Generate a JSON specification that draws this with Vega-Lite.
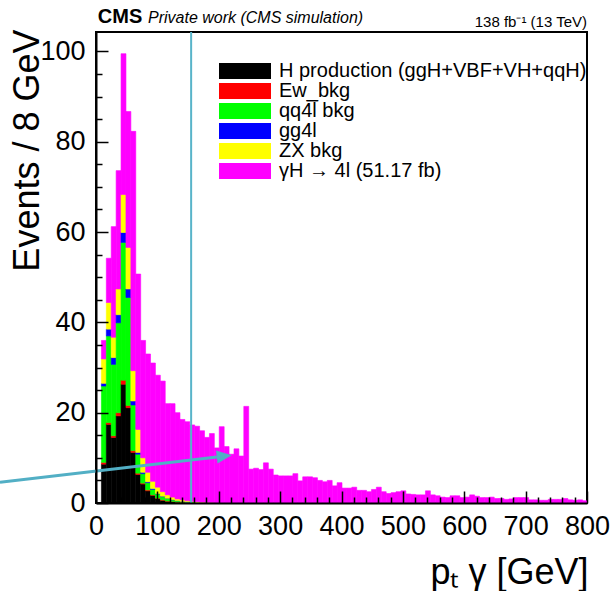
{
  "$schema": "https://vega.github.io/schema/vega-lite/v6.json",
  "width": 491,
  "height": 471,
  "autosize": {"type": "none"},
  "padding": {"left": 96, "top": 32, "right": 29, "bottom": 88},
  "background": "white",
  "config": {"view": {"stroke": "black", "strokeWidth": 2}, "font": "Liberation Sans"},
  "resolve": {"scale": {"x": "shared", "y": "shared"}, "axis": {"x": "independent", "y": "independent"}},
  "datasets": {
    "procs": [
      {"proc": "H", "name": "H production (ggH+VBF+VH+qqH)", "rank": 0},
      {"proc": "Ew", "name": "Ew_bkg", "rank": 1},
      {"proc": "qq", "name": "qq4̅l bkg", "rank": 2},
      {"proc": "gg", "name": "gg4l", "rank": 3},
      {"proc": "ZX", "name": "ZX bkg", "rank": 4},
      {"proc": "gH", "name": "γH → 4l (51.17 fb)", "rank": 5}
    ],
    "hist": [
      {"lo":8,"hi":16,"proc":"H","n":8.6},{"lo":8,"hi":16,"proc":"Ew","n":0.4},{"lo":8,"hi":16,"proc":"qq","n":16.9},{"lo":8,"hi":16,"proc":"gg","n":0.6},{"lo":8,"hi":16,"proc":"ZX","n":5.4},{"lo":8,"hi":16,"proc":"gH","n":4.1},
      {"lo":16,"hi":24,"proc":"H","n":17.4},{"lo":16,"hi":24,"proc":"Ew","n":0.4},{"lo":16,"hi":24,"proc":"qq","n":19.2},{"lo":16,"hi":24,"proc":"gg","n":1.5},{"lo":16,"hi":24,"proc":"ZX","n":5.9},{"lo":16,"hi":24,"proc":"gH","n":9.8},
      {"lo":24,"hi":32,"proc":"H","n":14.5},{"lo":24,"hi":32,"proc":"Ew","n":0.4},{"lo":24,"hi":32,"proc":"qq","n":15.8},{"lo":24,"hi":32,"proc":"gg","n":1.5},{"lo":24,"hi":32,"proc":"ZX","n":4.5},{"lo":24,"hi":32,"proc":"gH","n":24.5},
      {"lo":32,"hi":40,"proc":"H","n":19.3},{"lo":32,"hi":40,"proc":"Ew","n":0.7},{"lo":32,"hi":40,"proc":"qq","n":19.9},{"lo":32,"hi":40,"proc":"gg","n":1.8},{"lo":32,"hi":40,"proc":"ZX","n":5.7},{"lo":32,"hi":40,"proc":"gH","n":26.2},
      {"lo":40,"hi":48,"proc":"H","n":26.3},{"lo":40,"hi":48,"proc":"Ew","n":0.9},{"lo":40,"hi":48,"proc":"qq","n":30.5},{"lo":40,"hi":48,"proc":"gg","n":2.2},{"lo":40,"hi":48,"proc":"ZX","n":8.4},{"lo":40,"hi":48,"proc":"gH","n":31.2},
      {"lo":48,"hi":56,"proc":"H","n":21.1},{"lo":48,"hi":56,"proc":"Ew","n":0.5},{"lo":48,"hi":56,"proc":"qq","n":23.9},{"lo":48,"hi":56,"proc":"gg","n":1.9},{"lo":48,"hi":56,"proc":"ZX","n":9.2},{"lo":48,"hi":56,"proc":"gH","n":30.1},
      {"lo":56,"hi":64,"proc":"H","n":11.2},{"lo":56,"hi":64,"proc":"Ew","n":0.4},{"lo":56,"hi":64,"proc":"qq","n":10.1},{"lo":56,"hi":64,"proc":"gg","n":0.9},{"lo":56,"hi":64,"proc":"ZX","n":6.7},{"lo":56,"hi":64,"proc":"gH","n":53.0},
      {"lo":64,"hi":72,"proc":"H","n":6.3},{"lo":64,"hi":72,"proc":"Ew","n":0.3},{"lo":64,"hi":72,"proc":"qq","n":4.2},{"lo":64,"hi":72,"proc":"gg","n":0.4},{"lo":64,"hi":72,"proc":"ZX","n":5.1},{"lo":64,"hi":72,"proc":"gH","n":34.4},
      {"lo":72,"hi":80,"proc":"H","n":4.2},{"lo":72,"hi":80,"proc":"Ew","n":0.2},{"lo":72,"hi":80,"proc":"qq","n":2.1},{"lo":72,"hi":80,"proc":"gg","n":0.3},{"lo":72,"hi":80,"proc":"ZX","n":3.2},{"lo":72,"hi":80,"proc":"gH","n":26.0},
      {"lo":80,"hi":88,"proc":"H","n":2.7},{"lo":80,"hi":88,"proc":"Ew","n":0.2},{"lo":80,"hi":88,"proc":"qq","n":1.6},{"lo":80,"hi":88,"proc":"gg","n":0.2},{"lo":80,"hi":88,"proc":"ZX","n":2.1},{"lo":80,"hi":88,"proc":"gH","n":26.2},
      {"lo":88,"hi":96,"proc":"H","n":1.7},{"lo":88,"hi":96,"proc":"Ew","n":0.1},{"lo":88,"hi":96,"proc":"qq","n":1.2},{"lo":88,"hi":96,"proc":"gg","n":0.2},{"lo":88,"hi":96,"proc":"ZX","n":1.6},{"lo":88,"hi":96,"proc":"gH","n":26.2},
      {"lo":96,"hi":104,"proc":"H","n":1.0},{"lo":96,"hi":104,"proc":"Ew","n":0.1},{"lo":96,"hi":104,"proc":"qq","n":0.9},{"lo":96,"hi":104,"proc":"gg","n":0.1},{"lo":96,"hi":104,"proc":"ZX","n":1.4},{"lo":96,"hi":104,"proc":"gH","n":24.8},
      {"lo":104,"hi":112,"proc":"H","n":0.6},{"lo":104,"hi":112,"proc":"Ew","n":0.1},{"lo":104,"hi":112,"proc":"qq","n":0.7},{"lo":104,"hi":112,"proc":"gg","n":0.1},{"lo":104,"hi":112,"proc":"ZX","n":1.0},{"lo":104,"hi":112,"proc":"gH","n":24.5},
      {"lo":112,"hi":120,"proc":"H","n":0.4},{"lo":112,"hi":120,"proc":"Ew","n":0.05},{"lo":112,"hi":120,"proc":"qq","n":0.55},{"lo":112,"hi":120,"proc":"gg","n":0.05},{"lo":112,"hi":120,"proc":"ZX","n":0.75},{"lo":112,"hi":120,"proc":"gH","n":20.2},
      {"lo":120,"hi":128,"proc":"H","n":0.3},{"lo":120,"hi":128,"proc":"Ew","n":0.05},{"lo":120,"hi":128,"proc":"qq","n":0.35},{"lo":120,"hi":128,"proc":"gg","n":0.05},{"lo":120,"hi":128,"proc":"ZX","n":0.55},{"lo":120,"hi":128,"proc":"gH","n":20.7},
      {"lo":128,"hi":136,"proc":"H","n":0.2},{"lo":128,"hi":136,"proc":"Ew","n":0.02},{"lo":128,"hi":136,"proc":"qq","n":0.28},{"lo":128,"hi":136,"proc":"gg","n":0.02},{"lo":128,"hi":136,"proc":"ZX","n":0.38},{"lo":128,"hi":136,"proc":"gH","n":19.1},
      {"lo":136,"hi":144,"proc":"H","n":0.15},{"lo":136,"hi":144,"proc":"Ew","n":0.02},{"lo":136,"hi":144,"proc":"qq","n":0.18},{"lo":136,"hi":144,"proc":"gg","n":0.02},{"lo":136,"hi":144,"proc":"ZX","n":0.33},{"lo":136,"hi":144,"proc":"gH","n":17.8},
      {"lo":144,"hi":152,"proc":"H","n":0.1},{"lo":144,"hi":152,"proc":"Ew","n":0.01},{"lo":144,"hi":152,"proc":"qq","n":0.14},{"lo":144,"hi":152,"proc":"gg","n":0.01},{"lo":144,"hi":152,"proc":"ZX","n":0.24},{"lo":144,"hi":152,"proc":"gH","n":17.5},
      {"lo":152,"hi":160,"proc":"H","n":0.08},{"lo":152,"hi":160,"proc":"qq","n":0.12},{"lo":152,"hi":160,"proc":"ZX","n":0.15},{"lo":152,"hi":160,"proc":"gH","n":16.95},
      {"lo":160,"hi":168,"proc":"H","n":0.05},{"lo":160,"hi":168,"proc":"qq","n":0.1},{"lo":160,"hi":168,"proc":"ZX","n":0.1},{"lo":160,"hi":168,"proc":"gH","n":16.75},
      {"lo":168,"hi":176,"proc":"H","n":0.03},{"lo":168,"hi":176,"proc":"qq","n":0.06},{"lo":168,"hi":176,"proc":"ZX","n":0.08},{"lo":168,"hi":176,"proc":"gH","n":15.83},
      {"lo":176,"hi":184,"proc":"H","n":0.02},{"lo":176,"hi":184,"proc":"qq","n":0.05},{"lo":176,"hi":184,"proc":"ZX","n":0.06},{"lo":176,"hi":184,"proc":"gH","n":14.4},
      {"lo":184,"hi":192,"proc":"qq","n":0.03},{"lo":184,"hi":192,"proc":"ZX","n":0.05},{"lo":184,"hi":192,"proc":"gH","n":15.3},
      {"lo":192,"hi":200,"proc":"gH","n":12.2},{"lo":200,"hi":208,"proc":"gH","n":16.9},{"lo":208,"hi":216,"proc":"gH","n":12.5},{"lo":216,"hi":224,"proc":"gH","n":10.8},
      {"lo":224,"hi":232,"proc":"gH","n":12.0},{"lo":232,"hi":240,"proc":"gH","n":10.4},{"lo":240,"hi":248,"proc":"gH","n":21.4},{"lo":248,"hi":256,"proc":"gH","n":7.5},
      {"lo":256,"hi":264,"proc":"gH","n":7.7},{"lo":264,"hi":272,"proc":"gH","n":7.4},{"lo":272,"hi":280,"proc":"gH","n":8.9},{"lo":280,"hi":288,"proc":"gH","n":7.5},
      {"lo":288,"hi":296,"proc":"gH","n":6.2},{"lo":296,"hi":304,"proc":"gH","n":6.0},{"lo":304,"hi":312,"proc":"gH","n":6.0},{"lo":312,"hi":320,"proc":"gH","n":6.0},
      {"lo":320,"hi":328,"proc":"gH","n":6.5},{"lo":328,"hi":336,"proc":"gH","n":4.9},{"lo":336,"hi":344,"proc":"gH","n":5.8},{"lo":344,"hi":352,"proc":"gH","n":5.8},
      {"lo":352,"hi":360,"proc":"gH","n":5.6},{"lo":360,"hi":368,"proc":"gH","n":5.0},{"lo":368,"hi":376,"proc":"gH","n":4.7},{"lo":376,"hi":384,"proc":"gH","n":5.0},
      {"lo":384,"hi":392,"proc":"gH","n":3.8},{"lo":392,"hi":400,"proc":"gH","n":4.5},{"lo":400,"hi":408,"proc":"gH","n":3.3},{"lo":408,"hi":416,"proc":"gH","n":3.3},
      {"lo":416,"hi":424,"proc":"gH","n":3.5},{"lo":424,"hi":432,"proc":"gH","n":2.8},{"lo":432,"hi":440,"proc":"gH","n":2.8},{"lo":440,"hi":448,"proc":"gH","n":2.5},
      {"lo":448,"hi":456,"proc":"gH","n":3.0},{"lo":456,"hi":464,"proc":"gH","n":3.5},{"lo":464,"hi":472,"proc":"gH","n":2.5},{"lo":472,"hi":480,"proc":"gH","n":2.1},
      {"lo":480,"hi":488,"proc":"gH","n":2.3},{"lo":488,"hi":496,"proc":"gH","n":2.5},{"lo":496,"hi":504,"proc":"gH","n":2.7},{"lo":504,"hi":512,"proc":"gH","n":2.0},
      {"lo":512,"hi":520,"proc":"gH","n":1.9},{"lo":520,"hi":528,"proc":"gH","n":1.8},{"lo":528,"hi":536,"proc":"gH","n":1.8},{"lo":536,"hi":544,"proc":"gH","n":2.7},
      {"lo":544,"hi":552,"proc":"gH","n":1.8},{"lo":552,"hi":560,"proc":"gH","n":1.6},{"lo":560,"hi":568,"proc":"gH","n":1.3},{"lo":568,"hi":576,"proc":"gH","n":1.2},
      {"lo":576,"hi":584,"proc":"gH","n":1.6},{"lo":584,"hi":592,"proc":"gH","n":1.6},{"lo":592,"hi":600,"proc":"gH","n":1.2},{"lo":600,"hi":608,"proc":"gH","n":1.3},
      {"lo":608,"hi":616,"proc":"gH","n":1.8},{"lo":616,"hi":624,"proc":"gH","n":1.5},{"lo":624,"hi":632,"proc":"gH","n":1.2},{"lo":632,"hi":640,"proc":"gH","n":1.2},
      {"lo":640,"hi":648,"proc":"gH","n":1.3},{"lo":648,"hi":656,"proc":"gH","n":1.0},{"lo":656,"hi":664,"proc":"gH","n":1.0},{"lo":664,"hi":672,"proc":"gH","n":0.8},
      {"lo":672,"hi":680,"proc":"gH","n":0.9},{"lo":680,"hi":688,"proc":"gH","n":1.2},{"lo":688,"hi":696,"proc":"gH","n":1.2},{"lo":696,"hi":704,"proc":"gH","n":1.2},
      {"lo":704,"hi":712,"proc":"gH","n":0.7},{"lo":712,"hi":720,"proc":"gH","n":0.7},{"lo":720,"hi":728,"proc":"gH","n":0.6},{"lo":728,"hi":736,"proc":"gH","n":0.6},
      {"lo":736,"hi":744,"proc":"gH","n":0.8},{"lo":744,"hi":752,"proc":"gH","n":0.8},{"lo":752,"hi":760,"proc":"gH","n":0.8},{"lo":760,"hi":768,"proc":"gH","n":1.0},
      {"lo":768,"hi":776,"proc":"gH","n":0.7},{"lo":776,"hi":784,"proc":"gH","n":0.6},{"lo":784,"hi":792,"proc":"gH","n":0.7},{"lo":792,"hi":800,"proc":"gH","n":0.5}
    ]
  },
  "layer": [
    {
      "data": {"name": "hist"},
      "transform": [
        {"lookup": "proc", "from": {"data": {"name": "procs"}, "key": "proc", "fields": ["name", "rank"]}}
      ],
      "mark": {"type": "bar", "binSpacing": 0, "strokeWidth": 0.6},
      "encoding": {
        "x": {
          "field": "lo", "type": "quantitative", "bin": {"binned": true, "step": 8},
          "scale": {"domain": [0, 800], "nice": false, "zero": false},
          "axis": {
            "orient": "bottom",
            "values": [0,100,200,300,400,500,600,700,800],
            "labelExpr": "format(datum.value, 'd')",
            "labelFontSize": 27, "labelFont": "Liberation Sans", "labelColor": "black",
            "labelPadding": 22, "labelFlush": false, "labelOverlap": false, "labelBound": false,
            "tickSize": -12, "tickColor": "black", "tickWidth": 1.5,
            "domain": true, "domainColor": "black", "domainWidth": 2, "grid": false, "zindex": 1,
            "title": "pₜ γ [GeV]", "titleFont": "Liberation Sans", "titleFontSize": 36, "titleFontWeight": "normal",
            "titleColor": "black", "titleAnchor": "end", "titleAlign": "right", "titleBaseline": "alphabetic",
            "titleX": 492, "titleY": 80
          }
        },
        "x2": {"field": "hi"},
        "y": {
          "field": "n", "type": "quantitative", "stack": "zero",
          "scale": {"domain": [0, 104.3], "nice": false},
          "axis": {
            "orient": "left",
            "values": [0,20,40,60,80,100],
            "labelExpr": "format(datum.value, 'd')",
            "labelFontSize": 27, "labelFont": "Liberation Sans", "labelColor": "black",
            "labelPadding": 23, "labelFlush": false, "labelOverlap": false, "labelBound": false,
            "tickSize": -12, "tickColor": "black", "tickWidth": 1.5,
            "domain": true, "domainColor": "black", "domainWidth": 2, "grid": false, "zindex": 1,
            "title": "Events / 8 GeV", "titleFont": "Liberation Sans", "titleFontSize": 36, "titleFontWeight": "normal",
            "titleColor": "black", "titleAngle": 270, "titleAlign": "right", "titleBaseline": "alphabetic",
            "titleX": -58, "titleY": -3
          }
        },
        "color": {
          "field": "name", "type": "nominal",
          "scale": {
            "domain": ["H production (ggH+VBF+VH+qqH)", "Ew_bkg", "qq4̅l bkg", "gg4l", "ZX bkg", "γH → 4l (51.17 fb)"],
            "range": ["#000000", "#ff0000", "#00ff00", "#0000ff", "#ffff00", "#ff00ff"]
          },
          "legend": {
            "orient": "none", "legendX": 139, "legendY": 29, "title": null, "padding": 0,
            "symbolType": "M-3.25,-1H3.25V1H-3.25Z", "symbolSize": 256, "symbolStrokeWidth": 0, "symbolOpacity": 1,
            "labelFontSize": 20, "labelFont": "Liberation Sans", "labelColor": "black",
            "labelOffset": 24, "rowPadding": 0, "labelLimit": 400
          }
        },
        "stroke": {
          "field": "name", "type": "nominal",
          "scale": {
            "domain": ["H production (ggH+VBF+VH+qqH)", "Ew_bkg", "qq4̅l bkg", "gg4l", "ZX bkg", "γH → 4l (51.17 fb)"],
            "range": ["#000000", "#ff0000", "#00ff00", "#0000ff", "#ffff00", "#ff00ff"]
          },
          "legend": null
        },
        "order": {"field": "rank", "type": "quantitative"}
      }
    },
    {
      "data": {"values": [{}]},
      "mark": {"type": "rule", "color": "#58b4c9", "strokeWidth": 2},
      "encoding": {"x": {"datum": 155, "axis": null}}
    },
    {
      "data": {"values": [{}]},
      "mark": {"type": "rule", "color": "#52afc5", "strokeWidth": 3, "clip": false},
      "encoding": {"x": {"datum": -156.4, "axis": null}, "y": {"datum": 4.6, "axis": null}, "x2": {"datum": 197}, "y2": {"datum": 10.2}}
    },
    {
      "data": {"values": [{}]},
      "mark": {"type": "point", "shape": "M-1,-0.87L1,0L-1,0.87Z", "size": 225, "angle": -6.7, "filled": true, "color": "#52afc5", "opacity": 1, "clip": false},
      "encoding": {
        "x": {"datum": 208.9, "axis": {
          "orient": "bottom",
          "values": [20,40,60,80,120,140,160,180,220,240,260,280,320,340,360,380,420,440,460,480,520,540,560,580,620,640,660,680,720,740,760,780],
          "labels": false, "title": null, "tickSize": -6, "tickColor": "black", "tickWidth": 1.5,
          "domain": false, "grid": false, "zindex": 1
        }},
        "y": {"datum": 10.4, "axis": {
          "orient": "left",
          "values": [5,10,15,25,30,35,45,50,55,65,70,75,85,90,95],
          "labels": false, "title": null, "tickSize": -6, "tickColor": "black", "tickWidth": 1.5,
          "domain": false, "grid": false, "zindex": 1
        }}
      }
    },
    {
      "data": {"values": [{}]},
      "mark": {"type": "text", "text": "CMS", "font": "Liberation Sans", "fontWeight": "bold", "fontSize": 20, "align": "left", "baseline": "alphabetic", "color": "black"},
      "encoding": {"x": {"datum": 3, "axis": null}, "y": {"datum": 106.2, "axis": null}}
    },
    {
      "data": {"values": [{}]},
      "mark": {"type": "text", "text": "Private work (CMS simulation)", "font": "Liberation Sans", "fontStyle": "italic", "fontSize": 16, "align": "left", "baseline": "alphabetic", "color": "black"},
      "encoding": {"x": {"datum": 84.7, "axis": null}, "y": {"datum": 106.4, "axis": null}}
    },
    {
      "data": {"values": [{}]},
      "mark": {"type": "text", "text": "138 fb⁻¹ (13 TeV)", "font": "Liberation Sans", "fontSize": 15, "align": "right", "baseline": "alphabetic", "color": "black"},
      "encoding": {"x": {"datum": 800, "axis": null}, "y": {"datum": 105.5, "axis": null}}
    }
  ]
}
